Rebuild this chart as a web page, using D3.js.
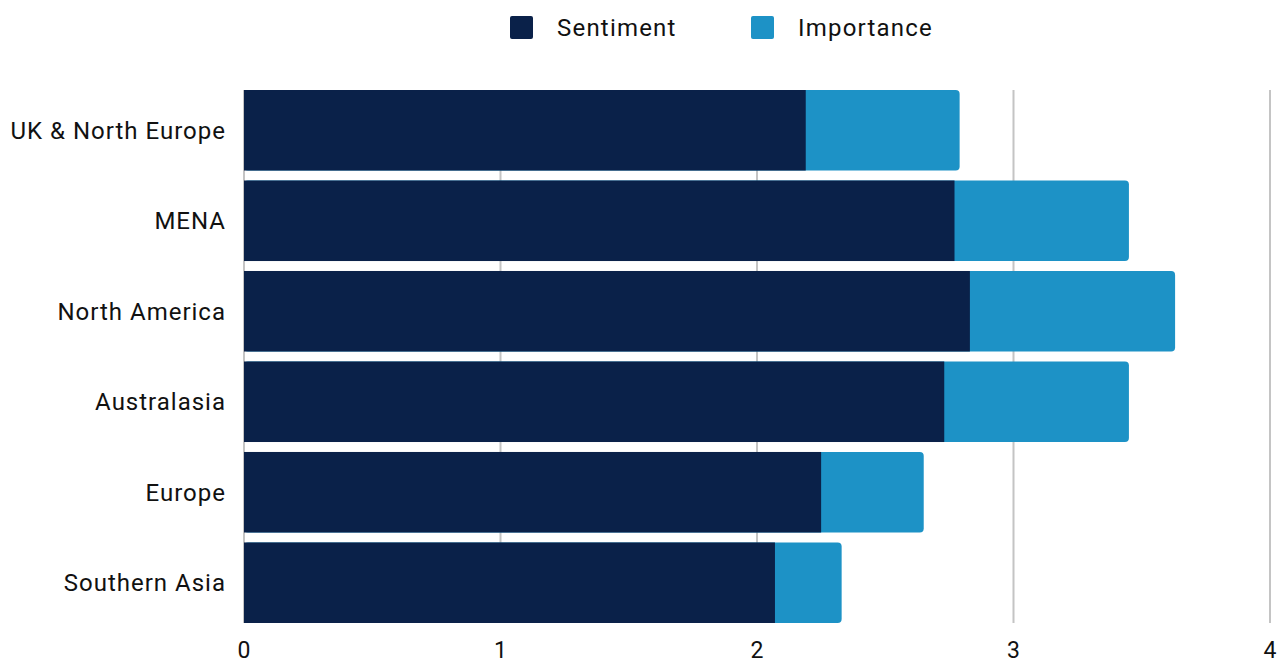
<!DOCTYPE html>
<html>
<head>
<meta charset="utf-8">
<script src="https://cdn.jsdelivr.net/npm/d3@7"></script>
<style>
  body { margin: 0; background: #fff; }
  text { font-family: Roboto, "Noto Sans", sans-serif; fill: #111; }
</style>
</head>
<body>
<div id="chart"></div>
<script>
var regions = ["UK & North Europe", "MENA", "North America", "Australasia", "Europe", "Southern Asia"];
var sentiment = [2.19, 2.77, 2.83, 2.73, 2.25, 2.07];
var importance = [0.60, 0.68, 0.80, 0.72, 0.40, 0.26];
var seriesNames = ["Sentiment", "Importance"];
var xTicks = [0, 1, 2, 3, 4];

var param = {
    width : 1281,
    height : 664,
    left : 244,
    right : 1270,
    top : 90,
    bottom : 623,
    colors : ["#0a2149", "#1d92c6"]
};

var svg = d3.select("#chart")
            .append("svg")
            .attr("width", param.width)
            .attr("height", param.height);

var x = d3.scaleLinear()
          .domain([0, 4])
          .range([param.left, param.right]);

var y = d3.scaleBand()
          .domain(regions)
          .range([param.top, param.bottom])
          .paddingInner(0.11)
          .paddingOuter(0);

// gridlines
svg.selectAll(".grid")
   .data(xTicks)
   .enter()
   .append("line")
   .attr("x1", function(d) {return x(d)})
   .attr("x2", function(d) {return x(d)})
   .attr("y1", param.top)
   .attr("y2", param.bottom)
   .style("stroke", "#c4c4c4")
   .style("stroke-width", "2px");

var rows = regions.map(function(r, i) {
    return {region : r, s : sentiment[i], imp : importance[i]};
});

// importance drawn full length with rounded end, sentiment on top
svg.selectAll(".imp")
   .data(rows)
   .enter()
   .append("rect")
   .attr("x", x(0))
   .attr("y", function(d) {return y(d.region)})
   .attr("width", function(d) {return x(d.s + d.imp) - x(0)})
   .attr("height", y.bandwidth())
   .attr("rx", 4)
   .style("fill", param.colors[1]);

svg.selectAll(".sent")
   .data(rows)
   .enter()
   .append("rect")
   .attr("x", x(0))
   .attr("y", function(d) {return y(d.region)})
   .attr("width", function(d) {return x(d.s) - x(0)})
   .attr("height", y.bandwidth())
   .style("fill", param.colors[0]);

// category labels
svg.selectAll(".cat")
   .data(regions)
   .enter()
   .append("text")
   .attr("x", param.left - 18)
   .attr("y", function(d) {return y(d) + y.bandwidth() / 2})
   .attr("dy", "0.35em")
   .style("text-anchor", "end")
   .style("font-size", "24px")
   .style("letter-spacing", "1px")
   .text(function(d) {return d});

// x tick labels
svg.selectAll(".tick")
   .data(xTicks)
   .enter()
   .append("text")
   .attr("x", function(d) {return x(d)})
   .attr("y", 658)
   .style("text-anchor", "middle")
   .style("font-size", "23px")
   .text(function(d) {return d});

// legend
var legendX = [510, 751];
var legend = svg.selectAll(".legend")
                .data(seriesNames)
                .enter()
                .append("g")
                .attr("transform", function(d, i) {return "translate(" + legendX[i] + ",16)"});

legend.append("rect")
      .attr("width", 23)
      .attr("height", 23)
      .attr("rx", 2)
      .style("fill", function(d, i) {return param.colors[i]});

legend.append("text")
      .attr("x", 47)
      .attr("y", 20)
      .style("font-size", "24px")
      .style("letter-spacing", "1.2px")
      .text(function(d) {return d});
</script>
</body>
</html>
